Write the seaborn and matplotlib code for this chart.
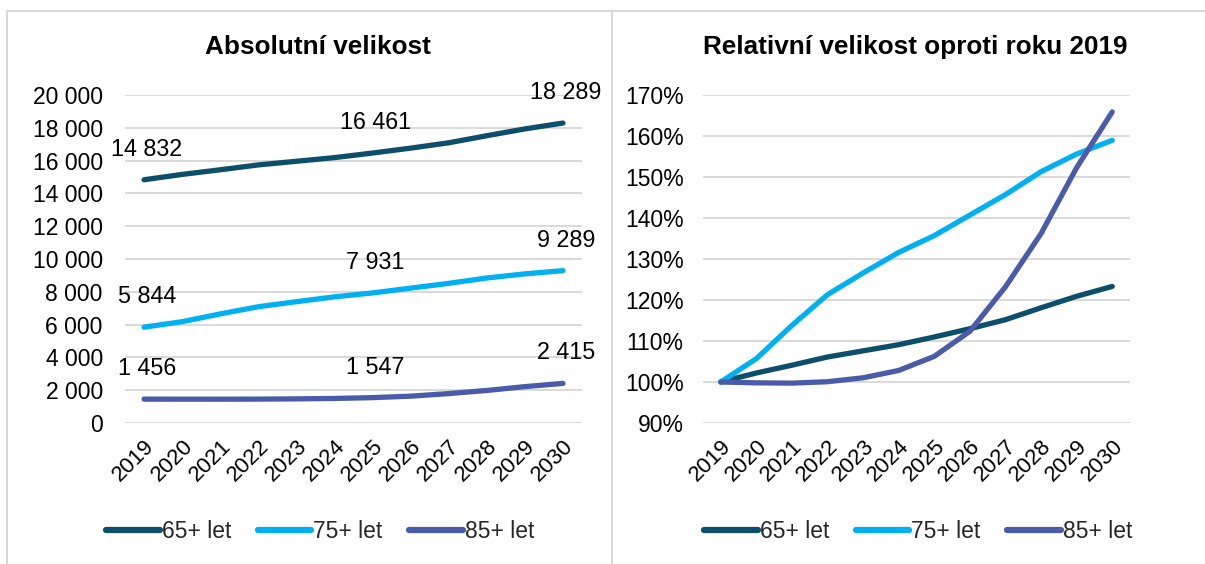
import numpy as np
import pandas as pd
import matplotlib
matplotlib.use("Agg")
import matplotlib.pyplot as plt
from matplotlib.lines import Line2D
from matplotlib.ticker import FuncFormatter
import seaborn as sns

years = [2019, 2020, 2021, 2022, 2023, 2024, 2025, 2026, 2027, 2028, 2029, 2030]
series_names = ["65+ let", "75+ let", "85+ let"]
abs_65 = [14832, 15158, 15440, 15737, 15959, 16182, 16461, 16760, 17086, 17517, 17932, 18289]
abs_75 = [5844, 6177, 6651, 7089, 7398, 7691, 7931, 8223, 8515, 8842, 9093, 9289]
abs_85 = [1456, 1453, 1452, 1457, 1471, 1497, 1547, 1636, 1794, 1983, 2217, 2415]
label_years = [2019, 2025, 2030]
colors = ["#0D4F6B", "#00B0F0", "#4A5BAA"]

sns.set_theme(style="white")
plt.rcParams["font.family"] = ["Liberation Sans", "DejaVu Sans"]

rows = []
for name, vals in zip(series_names, [abs_65, abs_75, abs_85]):
    base = vals[0]
    for y, v in zip(years, vals):
        rows.append({"year": y, "series": name, "abs": v, "rel": v / base})
df = pd.DataFrame(rows)

fig = plt.figure(figsize=(12.05, 5.64), dpi=100)
W, H = 1205, 564

def fx(x):
    return x / W

def fy(y):
    return 1 - y / H

axL = fig.add_axes([fx(125), fy(423), fx(582 - 125), (423 - 95) / H])
axR = fig.add_axes([fx(703), fy(423), fx(1130 - 703), (423 - 95) / H])

pal = dict(zip(series_names, colors))
sns.lineplot(data=df, x="year", y="abs", hue="series", palette=pal, linewidth=3.8,
             ax=axL, legend=False, solid_capstyle="round")
sns.lineplot(data=df, x="year", y="rel", hue="series", palette=pal, linewidth=3.8,
             ax=axR, legend=False, solid_capstyle="round")

def space_fmt(v, pos):
    return f"{int(round(v)):,}".replace(",", " ")

axL.set_ylim(0, 20000)
axL.set_yticks(np.arange(0, 20001, 2000))
axL.yaxis.set_major_formatter(FuncFormatter(space_fmt))
axR.set_ylim(0.9, 1.7)
axR.set_yticks(np.arange(0.9, 1.7001, 0.1))
axR.yaxis.set_major_formatter(FuncFormatter(lambda v, p: f"{v*100:.0f}%"))

for ax, pad in [(axL, 16), (axR, 14)]:
    ax.set_xlim(2018.5, 2030.5)
    ax.set_xticks(years)
    ax.set_xticklabels([str(y) for y in years], rotation=45, ha="right",
                       rotation_mode="anchor", fontsize=16, color="black")
    ax.tick_params(axis="x", length=0, pad=9)
    ax.tick_params(axis="y", length=0, pad=pad, labelsize=16.5, labelcolor="black")
    ax.grid(axis="y", color="#D9D9D9", linewidth=1.4)
    ax.set_axisbelow(True)
    for s in ax.spines.values():
        s.set_visible(False)
    ax.set_xlabel("")
    ax.set_ylabel("")
    ax.patch.set_alpha(0)

# data labels on absolute chart
for name, vals in zip(series_names, [abs_65, abs_75, abs_85]):
    for ly in label_years:
        v = vals[years.index(ly)]
        axL.annotate(space_fmt(v, None), xy=(ly, v), xytext=(2, 22),
                     textcoords="offset points", ha="center", va="center",
                     fontsize=16.8, color="black", clip_on=False)

# titles
fig.text(fx(318), fy(47), "Absolutní velikost", ha="center", va="center",
         fontsize=18.8, fontweight="bold", color="black")
fig.text(fx(915), fy(47), "Relativní velikost oproti roku 2019", ha="center", va="center",
         fontsize=18.8, fontweight="bold", color="black")

# legends
handles = [Line2D([0], [0], color=c, lw=4.5, solid_capstyle="round") for c in colors]
for cx in [fx(320), fx(918)]:
    fig.legend(handles, series_names, loc="center", bbox_to_anchor=(cx, fy(532)),
               ncol=3, frameon=False, fontsize=16.5, handlelength=2.35,
               handletextpad=0.08, columnspacing=1.15)

# panel borders
bc = "#D9D9D9"
fig.add_artist(Line2D([fx(7), 1], [fy(11), fy(11)], color=bc, lw=1.5))
fig.add_artist(Line2D([fx(7), fx(7)], [fy(11), 0], color=bc, lw=1.5))
fig.add_artist(Line2D([fx(612), fx(612)], [fy(11), 0], color=bc, lw=1.5))

fig.savefig("out.png", dpi=100, facecolor="white")
